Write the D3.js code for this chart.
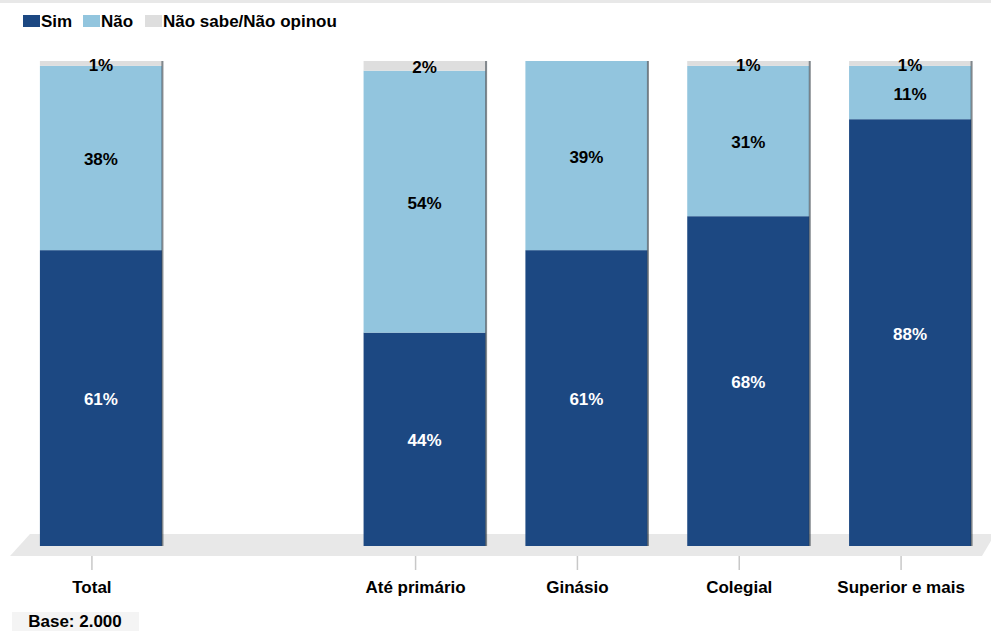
<!DOCTYPE html>
<html>
<head>
<meta charset="utf-8">
<script src="https://cdn.jsdelivr.net/npm/d3@7/dist/d3.min.js"></script>
<style>
  html, body { margin: 0; padding: 0; background: #fff; }
  svg { display: block; font-family: "Liberation Sans", Arial, sans-serif; }
</style>
</head>
<body>
<svg id="chart" width="991" height="631"></svg>
<script>
// Categories (the empty one is a spacer between Total and the education groups)
const categories = ["Total", "", "Até primário", "Ginásio", "Colegial", "Superior e mais"];
const series = ["Sim", "Não", "Não sabe/Não opinou"];
const sim    = [61, null, 44, 61, 68, 88];
const nao    = [38, null, 54, 39, 31, 11];
const naoSabe = [1, null, 2, 0, 1, 1];
const baseNote = "Base: 2.000";

const colors = ["#1c4882", "#92c5de", "#dedede"];
const labelColors = ["#ffffff", "#000000", "#000000"];
const FS = 17;

const svg = d3.select("#chart");
const W = 991, H = 631;

// Thin band at the very top
svg.append("rect").attr("x", 0).attr("y", 0).attr("width", W).attr("height", 3).attr("fill", "#e8e8e8");

// Scales
const x = d3.scaleBand()
  .domain(categories.map((c, i) => i))
  .range([20, 991])
  .paddingInner(0.246)
  .paddingOuter(0.123);
const y = d3.scaleLinear().domain([0, 100]).range([546, 61]);

// Floor of the pseudo-3D plot area
const floorTop = 534, floorBottom = 556;
svg.append("path")
  .attr("d", `M30,${floorTop} L995,${floorTop} L982,${floorBottom} L10,${floorBottom} Z`)
  .attr("fill", "#e8e8e8");

// Stack data
const rows = categories.map((c, i) => ({ i, cat: c, s0: sim[i], s1: nao[i], s2: naoSabe[i] }));
const stack = d3.stack().keys(["s0", "s1", "s2"])(rows.filter(r => r.s0 !== null));

const g = svg.append("g");
stack.forEach((layer, k) => {
  g.selectAll(null).data(layer).enter().append("rect")
    .attr("x", d => x(d.data.i))
    .attr("y", d => y(d[1]))
    .attr("width", x.bandwidth())
    .attr("height", d => y(d[0]) - y(d[1]))
    .attr("fill", colors[k]);
});

// Dark edge on the right of each bar
const barRows = rows.filter(r => r.s0 !== null);
g.selectAll(null).data(barRows).enter().append("rect")
  .attr("x", d => x(d.i) + x.bandwidth() - 0.5)
  .attr("y", d => y(d.s0 + d.s1 + d.s2))
  .attr("width", 2)
  .attr("height", d => y(0) - y(d.s0 + d.s1 + d.s2))
  .attr("fill", "rgba(30,40,50,0.55)");

// Value labels
stack.forEach((layer, k) => {
  g.selectAll(null).data(layer.filter(d => d[1] - d[0] > 0)).enter().append("text")
    .attr("x", d => x(d.data.i) + x.bandwidth() / 2)
    .attr("y", d => (y(d[0]) + y(d[1])) / 2 + 1)
    .attr("dy", "0.36em")
    .attr("text-anchor", "middle")
    .attr("font-size", FS)
    .attr("font-weight", "bold")
    .attr("fill", labelColors[k])
    .text(d => (d[1] - d[0]) + "%");
});

// Category axis: ticks and labels
const tickShift = -9;
const axisG = svg.append("g");
axisG.selectAll(null).data(rows.filter(r => r.cat !== "")).enter().append("line")
  .attr("x1", d => x(d.i) + x.bandwidth() / 2 + tickShift)
  .attr("x2", d => x(d.i) + x.bandwidth() / 2 + tickShift)
  .attr("y1", floorBottom)
  .attr("y2", 570)
  .attr("stroke", "#c8c8c8")
  .attr("stroke-width", 1.5);
axisG.selectAll(null).data(rows.filter(r => r.cat !== "")).enter().append("text")
  .attr("x", d => x(d.i) + x.bandwidth() / 2 + tickShift)
  .attr("y", 587)
  .attr("dy", "0.36em")
  .attr("text-anchor", "middle")
  .attr("font-size", FS)
  .attr("font-weight", "bold")
  .attr("fill", "#000")
  .text(d => d.cat);

// Legend
const legendX = [23, 83, 145];
const leg = svg.append("g");
series.forEach((s, k) => {
  leg.append("rect").attr("x", legendX[k]).attr("y", 15).attr("width", 17).attr("height", 12).attr("fill", colors[k]);
  leg.append("text")
    .attr("x", legendX[k] + 18)
    .attr("y", 21)
    .attr("dy", "0.36em")
    .attr("font-size", FS)
    .attr("font-weight", "bold")
    .attr("fill", "#000")
    .text(s);
});

// Base note
svg.append("rect").attr("x", 12).attr("y", 612).attr("width", 127).attr("height", 19).attr("fill", "#f4f4f4");
svg.append("text")
  .attr("x", 75).attr("y", 621).attr("dy", "0.36em")
  .attr("text-anchor", "middle")
  .attr("font-size", FS)
  .attr("font-weight", "bold")
  .attr("fill", "#000")
  .text(baseNote);
</script>
</body>
</html>
